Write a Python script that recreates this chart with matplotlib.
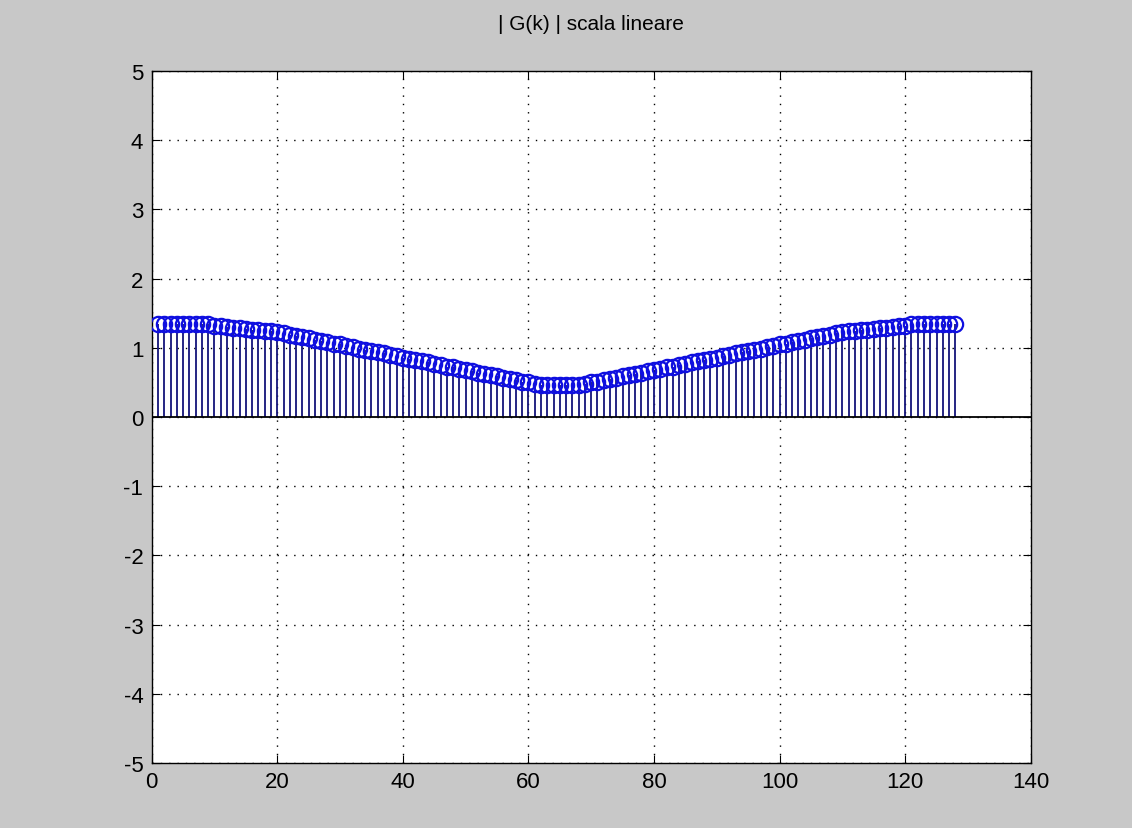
import matplotlib
matplotlib.use('Agg')
import matplotlib.pyplot as plt

plt.rcParams['font.family'] = ['Liberation Sans', 'DejaVu Sans']
plt.rcParams['axes.unicode_minus'] = False

# indice k (1..128)
k = list(range(1, 129))

# |G(k)|
g_mag = [
    1.35, 1.35, 1.35, 1.35, 1.35, 1.35, 1.35, 1.35, 1.35, 1.31,
    1.31, 1.30, 1.29, 1.28, 1.27, 1.26, 1.26, 1.25, 1.24, 1.23,
    1.21, 1.19, 1.17, 1.16, 1.14, 1.12, 1.10, 1.08, 1.06, 1.05,
    1.03, 1.01, 0.99, 0.97, 0.95, 0.94, 0.92, 0.90, 0.88, 0.86,
    0.84, 0.83, 0.81, 0.79, 0.77, 0.75, 0.73, 0.72, 0.70, 0.68,
    0.66, 0.64, 0.62, 0.61, 0.59, 0.57, 0.55, 0.53, 0.51, 0.50,
    0.48, 0.47, 0.47, 0.47, 0.47, 0.47, 0.47, 0.47, 0.48, 0.50,
    0.51, 0.53, 0.55, 0.57, 0.59, 0.61, 0.62, 0.64, 0.66, 0.68,
    0.70, 0.72, 0.73, 0.75, 0.77, 0.79, 0.81, 0.83, 0.84, 0.86,
    0.88, 0.90, 0.92, 0.94, 0.95, 0.97, 0.99, 1.01, 1.03, 1.05,
    1.06, 1.08, 1.10, 1.12, 1.14, 1.16, 1.17, 1.19, 1.21, 1.23,
    1.24, 1.25, 1.26, 1.26, 1.27, 1.28, 1.29, 1.30, 1.31, 1.31,
    1.35, 1.35, 1.35, 1.35, 1.35, 1.35, 1.35, 1.35,
]

x_ticks = [0, 20, 40, 60, 80, 100, 120, 140]
y_ticks = [-5, -4, -3, -2, -1, 0, 1, 2, 3, 4, 5]

fig = plt.figure(figsize=(11.32, 8.29), dpi=100, facecolor='#c8c8c8')
ax = fig.add_axes([0.134, 0.0784, 0.7765, 0.8347])
ax.set_facecolor('white')

# stem in stile MATLAB
ax.vlines(k, 0, g_mag, color='#14147a', linewidth=1.3, zorder=2)
ax.plot(k, g_mag, linestyle='none', marker='o', markersize=11,
        markerfacecolor='none', markeredgecolor='#0f0fe0',
        markeredgewidth=1.6, zorder=3)
ax.axhline(0, color='black', linewidth=1.3, zorder=2)

ax.set_xlim(0, 140)
ax.set_ylim(-5, 5)
ax.set_xticks(x_ticks)
ax.set_yticks(y_ticks)
ax.grid(True, color='black', linestyle=(0, (1, 5)), linewidth=1.0)
ax.tick_params(direction='in', top=True, right=True, length=6,
               labelsize=16, pad=6, colors='black')
for s in ax.spines.values():
    s.set_linewidth(1.0)
    s.set_color('black')

ax.set_title('| G(k) | scala lineare', fontsize=15, pad=30)

fig.savefig('out.png', dpi=100, facecolor=fig.get_facecolor())
